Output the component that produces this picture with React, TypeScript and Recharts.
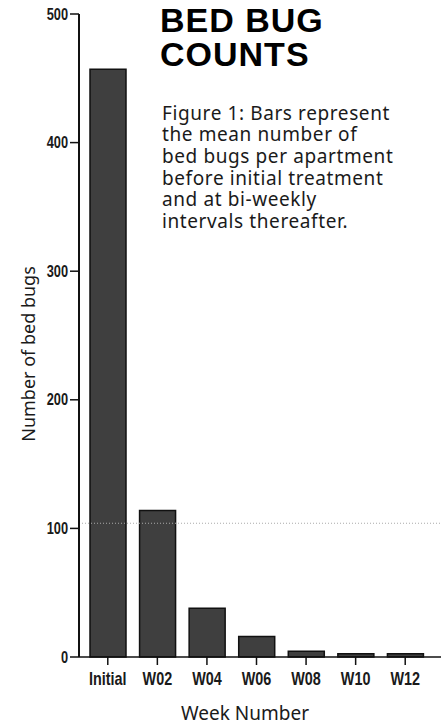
import React from 'react';
import { BarChart, Bar, XAxis, YAxis, ReferenceLine } from 'recharts';

const weeks = ['Initial', 'W02', 'W04', 'W06', 'W08', 'W10', 'W12'];
const meanBugs = [457, 114, 38, 16, 4.5, 2.6, 2.5];
const yTicks = [0, 100, 200, 300, 400, 500];
const titleLines = ['BED BUG', 'COUNTS'];
const captionLines = [
  'Figure 1: Bars represent',
  'the mean number of',
  'bed bugs per apartment',
  'before initial treatment',
  'and at bi-weekly',
  'intervals thereafter.',
];

const data = weeks.map((w, i) => ({ week: w, count: meanBugs[i] }));

const tickFont = "'Liberation Sans', Arial, sans-serif";

const XTick = (props: any) => {
  const { x, y, payload } = props;
  return (
    <g transform={`translate(${x},${y})`}>
      <text
        transform="scale(0.8,1)"
        textAnchor="middle"
        dy="0.71em"
        fill="#1a1a1a"
        fontSize={18}
        fontFamily={tickFont}
        fontWeight="bold"
      >
        {payload.value}
      </text>
    </g>
  );
};

const YTick = (props: any) => {
  const { x, y, payload } = props;
  return (
    <g transform={`translate(${x},${y})`}>
      <text
        transform="scale(0.8,1)"
        textAnchor="end"
        dy="0.355em"
        fill="#1a1a1a"
        fontSize={16}
        fontFamily={tickFont}
        fontWeight="bold"
      >
        {payload.value}
      </text>
    </g>
  );
};

export default function App() {
  return (
    <div style={{ position: 'absolute', left: 0, top: 0, width: 441, height: 725, background: '#fff', overflow: 'hidden' }}>
      <div style={{ position: 'absolute', left: 0, top: 0 }}>
        <BarChart width={441} height={725} data={data} margin={{ top: 14, right: 0, bottom: 0, left: 0 }} barSize={36}>
          <ReferenceLine y={104} stroke="#aaa" strokeDasharray="1 2" strokeWidth={1} />
          <XAxis
            dataKey="week"
            height={68}
            padding={{ left: 4, right: 11 }}
            tickSize={8}
            tickMargin={7}
            axisLine={{ stroke: '#111', strokeWidth: 1.5 }}
            tickLine={{ stroke: '#111', strokeWidth: 1.5 }}
            tick={<XTick />}
            interval={0}
          />
          <YAxis
            width={79}
            domain={[0, 500]}
            ticks={yTicks}
            tickSize={9}
            tickMargin={2}
            axisLine={{ stroke: '#111', strokeWidth: 2 }}
            tickLine={{ stroke: '#111', strokeWidth: 1.5 }}
            tick={<YTick />}
          />
          <Bar dataKey="count" fill="#3f3f3f" stroke="#111" strokeWidth={1.5} isAnimationActive={false} />
        </BarChart>
      </div>
      <div
        style={{
          position: 'absolute',
          left: 160,
          top: 3,
          fontFamily: "'Liberation Sans', Arial, sans-serif",
          fontWeight: 'bold',
          fontSize: 34,
          lineHeight: '34px',
          letterSpacing: 1,
          color: '#000',
          whiteSpace: 'nowrap',
        }}
      >
        {titleLines.map((t) => (
          <div key={t}>{t}</div>
        ))}
      </div>
      <div
        style={{
          position: 'absolute',
          left: 162,
          top: 102.5,
          fontFamily: "'Noto Sans', sans-serif",
          fontSize: 19,
          lineHeight: '21.7px',
          letterSpacing: 0.6,
          color: '#1a1a1a',
          whiteSpace: 'nowrap',
        }}
      >
        {captionLines.map((t) => (
          <div key={t}>{t}</div>
        ))}
      </div>
      <div
        style={{
          position: 'absolute',
          left: 28,
          top: 354,
          transform: 'translate(-50%, -50%) rotate(-90deg)',
          fontFamily: "'Noto Sans', sans-serif",
          fontSize: 18,
          color: '#1a1a1a',
          whiteSpace: 'nowrap',
        }}
      >
        Number of bed bugs
      </div>
      <div
        style={{
          position: 'absolute',
          left: 245,
          top: 702,
          transform: 'translateX(-50%)',
          fontFamily: "'Noto Sans', sans-serif",
          fontSize: 19,
          lineHeight: '22px',
          color: '#1a1a1a',
          whiteSpace: 'nowrap',
        }}
      >
        Week Number
      </div>
    </div>
  );
}
